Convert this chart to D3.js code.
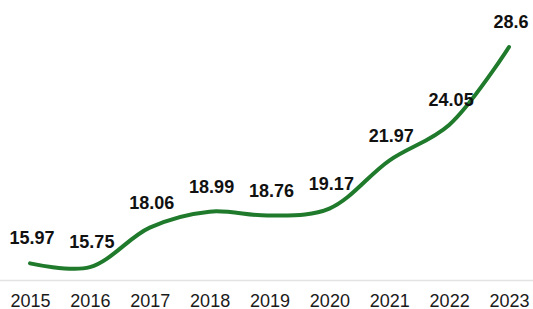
<!DOCTYPE html>
<html><head><meta charset="utf-8">
<script src="https://cdn.jsdelivr.net/npm/d3@7"></script>
<style>html,body{margin:0;padding:0;background:#fff;}</style>
</head><body>
<svg id="c" width="533" height="309"></svg>
<script>
const years = ["2015","2016","2017","2018","2019","2020","2021","2022","2023"];
const values = [15.97, 15.75, 18.06, 18.99, 18.76, 19.17, 21.97, 24.05, 28.6];
const labels = ["15.97","15.75","18.06","18.99","18.76","19.17","21.97","24.05","28.6"];

const svg = d3.select("#c");
const x = d3.scalePoint().domain(years).range([30, 509]);
const y = d3.scaleLinear().domain([15, 28.6]).range([280, 47]);

svg.append("line").attr("x1", 0).attr("x2", 533).attr("y1", 280.5).attr("y2", 280.5)
  .attr("stroke", "#e3e3e3").attr("stroke-width", 1.5);

const xAxis = d3.axisBottom(x).tickSize(0).tickPadding(0);
const gx = svg.append("g").attr("transform", "translate(0,294)").call(xAxis);
gx.select(".domain").remove();
gx.selectAll("text").attr("font-family", "Liberation Sans, Arial, sans-serif")
  .attr("font-size", 18).attr("fill", "#1a1a1a").attr("dy", "0.71em");

const data = years.map((d, i) => ({year: d, v: values[i], label: labels[i]}));
const line = d3.line().x(d => x(d.year)).y(d => y(d.v)).curve(d3.curveCatmullRom.alpha(0.5));
svg.append("path").datum(data).attr("d", line).attr("fill", "none")
  .attr("stroke", "#1f7a2c").attr("stroke-width", 4).attr("stroke-linecap", "round");

svg.selectAll(".lbl").data(data).enter().append("text")
  .attr("x", d => x(d.year) + 2).attr("y", d => y(d.v) - 19)
  .attr("text-anchor", "middle").attr("font-family", "Liberation Sans, Arial, sans-serif")
  .attr("font-weight", "bold").attr("font-size", 18).attr("fill", "#111")
  .text(d => d.label);
</script>
</body></html>
